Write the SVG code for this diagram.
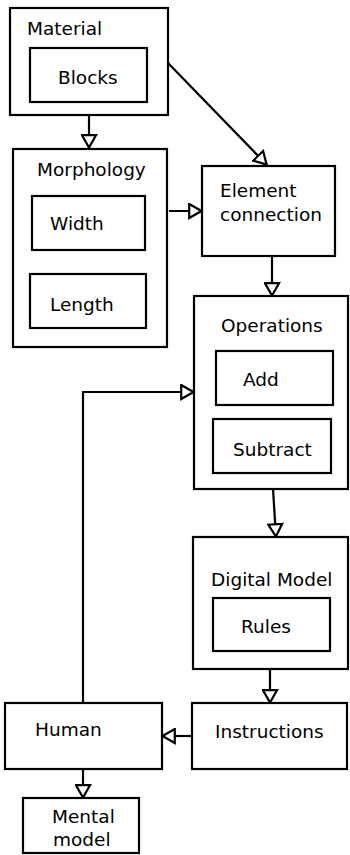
<svg xmlns="http://www.w3.org/2000/svg" width="350" height="855" viewBox="0 0 350 855">
<style>
.box{fill:#fff;stroke:#000;stroke-width:2.2}
.t{font-family:"DejaVu Sans",sans-serif;font-size:18.5px;fill:#000}
.c{fill:none;stroke:#000;stroke-width:2.2}
</style>
<defs>
<marker id="ah" markerUnits="userSpaceOnUse" viewBox="0 0 15 17" refX="14" refY="8.5" markerWidth="15" markerHeight="17" orient="auto">
<path d="M1.2,1.5 L13.5,8.5 L1.2,15.5 Z" fill="#fff" stroke="#000" stroke-width="2.2"/>
</marker>
</defs>
<rect width="350" height="855" fill="#fff"/>
<g id="connectors">
<path class="c" d="M89,115 V148" marker-end="url(#ah)"/>
<path class="c" d="M168,63 L267,165" marker-end="url(#ah)"/>
<path class="c" d="M169,211 H202" marker-end="url(#ah)"/>
<path class="c" d="M272,256 V296" marker-end="url(#ah)"/>
<path class="c" d="M273,489 L276,537" marker-end="url(#ah)"/>
<path class="c" d="M270,669 V703" marker-end="url(#ah)"/>
<path class="c" d="M192,736 H162" marker-end="url(#ah)"/>
<path class="c" d="M83,703 V392 H194" marker-end="url(#ah)"/>
<path class="c" d="M83,769 V798" marker-end="url(#ah)"/>
</g>
<g id="material">
<rect class="box" x="10" y="8" width="158" height="107"/>
<text class="t" x="27" y="35">Material</text>
</g>
<g id="blocks">
<rect class="box" x="30" y="48" width="117" height="54"/>
<text class="t" x="58" y="84">Blocks</text>
</g>
<g id="morphology">
<rect class="box" x="13" y="149" width="154" height="198"/>
<text class="t" x="37" y="176">Morphology</text>
</g>
<g id="width">
<rect class="box" x="32" y="196" width="113" height="54"/>
<text class="t" x="50" y="230">Width</text>
</g>
<g id="length">
<rect class="box" x="30" y="274" width="116" height="54"/>
<text class="t" x="50" y="311">Length</text>
</g>
<g id="element-connection">
<rect class="box" x="202" y="166" width="133" height="90"/>
<text class="t" x="220" y="197">Element</text>
<text class="t" x="220" y="221">connection</text>
</g>
<g id="operations">
<rect class="box" x="194" y="296" width="154" height="193"/>
<text class="t" x="221" y="332">Operations</text>
</g>
<g id="add">
<rect class="box" x="216" y="351" width="117" height="54"/>
<text class="t" x="243" y="386">Add</text>
</g>
<g id="subtract">
<rect class="box" x="213" y="419" width="118" height="54"/>
<text class="t" x="233" y="456">Subtract</text>
</g>
<g id="digital-model">
<rect class="box" x="193" y="537" width="155" height="132"/>
<text class="t" x="211" y="586">Digital Model</text>
</g>
<g id="rules">
<rect class="box" x="213" y="598" width="117" height="53"/>
<text class="t" x="241" y="633">Rules</text>
</g>
<g id="instructions">
<rect class="box" x="192" y="703" width="155" height="66"/>
<text class="t" x="215" y="738">Instructions</text>
</g>
<g id="human">
<rect class="box" x="5" y="703" width="157" height="66"/>
<text class="t" x="35" y="736">Human</text>
</g>
<g id="mental-model">
<rect class="box" x="23" y="798" width="116" height="55"/>
<text class="t" x="52" y="823">Mental</text>
<text class="t" x="53" y="846">model</text>
</g>
</svg>
